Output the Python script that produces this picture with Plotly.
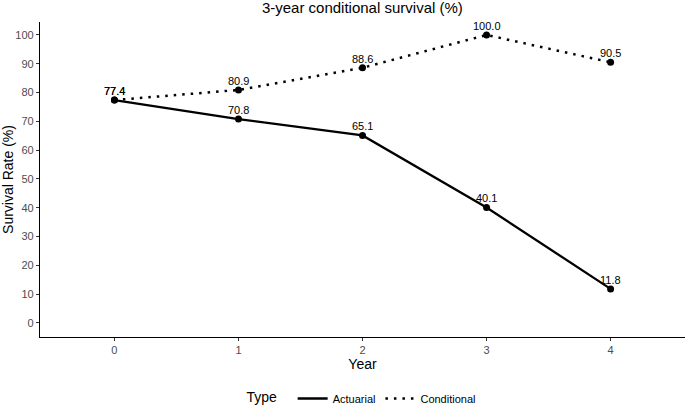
import plotly.graph_objects as go

years = [0, 1, 2, 3, 4]
actuarial = [77.4, 70.8, 65.1, 40.1, 11.8]
conditional = [77.4, 80.9, 88.6, 100.0, 90.5]
y_ticks = list(range(0, 101, 10))

FONT = "Liberation Sans, Arial, sans-serif"

fig = go.Figure()
series = [("Actuarial", actuarial, dict(color="black", width=2.3)),
          ("Conditional", conditional, dict(color="black", width=2.5, dash="2.5px,6px"))]
for name, vals, line in series:
    fig.add_trace(go.Scatter(x=years, y=vals, name=name, mode="lines", line=line))
for name, vals, line in series:
    fig.add_trace(go.Scatter(x=years, y=vals, name=name, mode="markers",
                             marker=dict(color="black", size=7), showlegend=False))
    for x, v in zip(years, vals):
        fig.add_annotation(x=x, y=v, text=f"{v:.1f}", showarrow=False,
                           yanchor="bottom", yshift=1,
                           font=dict(family=FONT, size=11, color="black"))

fig.update_layout(
    width=685, height=413, autosize=False,
    margin=dict(l=40, r=0, t=22, b=71),
    paper_bgcolor="white", plot_bgcolor="white",
    hovermode=False,
    font=dict(family=FONT, color="black"),
    title=dict(text="3-year conditional survival (%)", x=0.529, xanchor="center",
               yref="container", y=0.995, yanchor="top", pad=dict(t=0, b=0),
               font=dict(size=15, color="black")),
    xaxis=dict(range=[-0.6, 4.6], tickvals=years, ticktext=[str(y) for y in years],
               showline=True, linecolor="black", linewidth=1.2, showgrid=False, zeroline=False,
               ticks="outside", ticklen=3, tickcolor="#333333", automargin=False,
               tickfont=dict(size=11, color="#4D4D4D"),
               title=dict(text="Year", font=dict(size=14, color="black"), standoff=2)),
    yaxis=dict(range=[-4.9, 104.5], tickvals=y_ticks,
               showline=True, linecolor="black", linewidth=1.2, showgrid=False, zeroline=False,
               ticks="outside", ticklen=3, tickcolor="#333333", automargin=False,
               tickfont=dict(size=11, color="#4D4D4D"),
               title=dict(text="Survival Rate (%)", font=dict(size=14, color="black"), standoff=2)),
    showlegend=True,
    legend=dict(orientation="h", x=0.5, xanchor="center", y=-0.197, yanchor="middle",
                title=dict(text="Type  ", font=dict(size=14, color="black")),
                font=dict(size=11, color="black"), itemwidth=30, traceorder="normal"),
)

fig.write_html("out.html",
               config={"displayModeBar": False, "responsive": False},
               post_script="document.body.style.margin='0';document.body.style.overflow='hidden';")
